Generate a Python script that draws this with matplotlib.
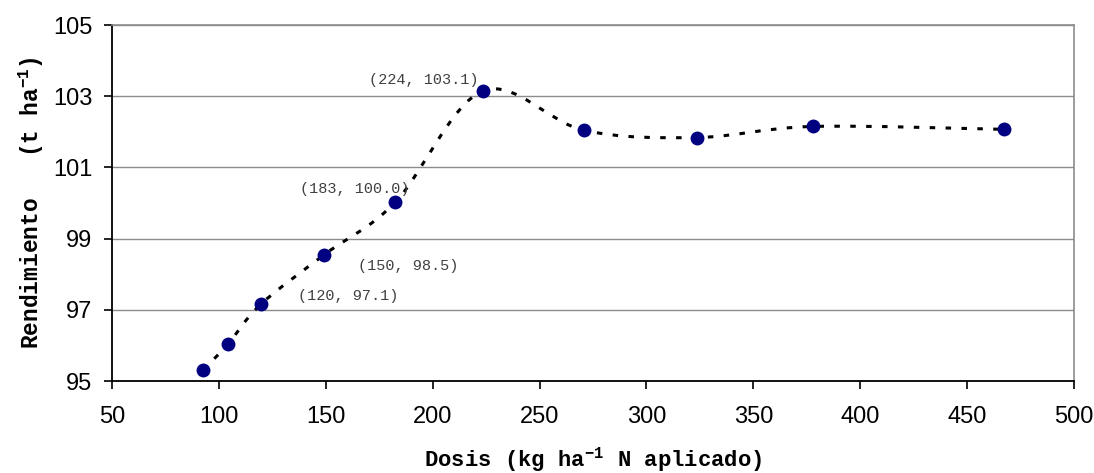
import numpy as np
import matplotlib
matplotlib.use('Agg')
import matplotlib.pyplot as plt
from matplotlib.path import Path
from matplotlib.patches import PathPatch

# ── data ─────────────────────────────────────────────────────────────────────
dosis = [92.6, 104.3, 119.5, 149.3, 182.5, 223.6, 270.9, 323.8, 377.9, 467.2]
rend  = [95.31, 96.04, 97.15, 98.55, 100.02, 103.15, 102.04, 101.84, 102.15, 102.07]

# labelled points: (index, text, offset in pixels)
etiquetas = [
    (2, '(120, 97.1)', (88, 8)),
    (3, '(150, 98.5)', (84, -11)),
    (4, '(183, 100.0)', (-41, 13)),
    (5, '(224, 103.1)', (-59, 11)),
]

x_ticks = np.arange(50, 501, 50)
y_ticks = np.arange(95, 106, 2)

plt.rcParams['mathtext.fontset'] = 'custom'
plt.rcParams['mathtext.rm'] = 'Liberation Mono:bold'
plt.rcParams['mathtext.it'] = 'Liberation Mono:bold'
plt.rcParams['mathtext.bf'] = 'Liberation Mono:bold'


def excel_smooth_path(x, y):
    """Bezier path like Excel's smoothed line (Catmull-Rom, tension 1/6)."""
    p = np.column_stack([x, y])
    n = len(p)
    verts = [p[0]]
    codes = [Path.MOVETO]
    for i in range(n - 1):
        p0 = p[i - 1] if i > 0 else p[i]
        p1 = p[i]
        p2 = p[i + 1]
        p3 = p[i + 2] if i + 2 < n else p[i + 1]
        c1 = p1 + (p2 - p0) / 6.0
        c2 = p2 - (p3 - p1) / 6.0
        verts += [c1, c2, p2]
        codes += [Path.CURVE4] * 3
    return Path(verts, codes)


fig = plt.figure(figsize=(10.94, 4.73), dpi=100)
ax = fig.add_axes([0.1024, 0.1945, 0.8793, 0.7526])

ax.set_xlim(50, 500)
ax.set_ylim(95, 105)
ax.set_xticks(x_ticks)
ax.set_yticks(y_ticks)

ax.yaxis.grid(True, color='#8c8c8c', lw=1.0)
ax.set_axisbelow(True)

curve = PathPatch(excel_smooth_path(dosis, rend), facecolor='none',
                  edgecolor='black', lw=2.2, linestyle=(0, (1.8, 3.4)),
                  zorder=2)
ax.add_patch(curve)

ax.plot(dosis, rend, 'o', color='#000080', markersize=10, zorder=3,
        markeredgewidth=0)

for i, txt, off in etiquetas:
    ax.annotate(txt, xy=(dosis[i], rend[i]), xytext=off,
                textcoords='offset pixels', ha='center', va='center',
                fontsize=11, family='Liberation Mono', color='#404040')

for s in ['left', 'bottom']:
    ax.spines[s].set_color('black')
    ax.spines[s].set_linewidth(1.3)
for s in ['top', 'right']:
    ax.spines[s].set_color('#8c8c8c')
    ax.spines[s].set_linewidth(1.2)

ax.tick_params(axis='x', direction='out', length=6, width=1.2, pad=12,
               labelsize=17)
ax.tick_params(axis='y', direction='out', length=6, width=1.2, pad=8,
               labelsize=17)
for lab in ax.get_xticklabels() + ax.get_yticklabels():
    lab.set_family('Liberation Sans')

ax.set_xlabel(r'Dosis (kg ha$^{-1}$ N aplicado)', family='Liberation Mono',
              fontweight='bold', fontsize=16, labelpad=12)
ax.set_ylabel(r'Rendimiento   (t ha$^{-1}$)', family='Liberation Mono',
              fontweight='bold', fontsize=16.5, labelpad=5)

fig.savefig('out.png', dpi=100)
